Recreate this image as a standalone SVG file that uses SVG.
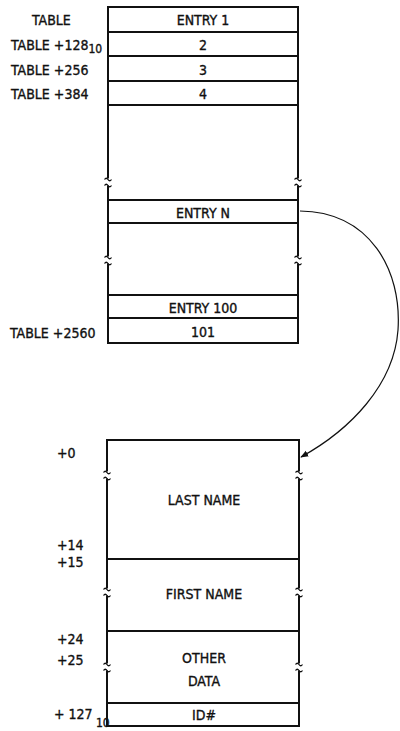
<svg xmlns="http://www.w3.org/2000/svg" xmlns:xlink="http://www.w3.org/1999/xlink" width="400" height="731" viewBox="0 0 400 731">
<style>
text{font-family:"DejaVu Sans Condensed","DejaVu Sans","Liberation Sans",sans-serif;font-stretch:condensed;font-size:14px;fill:#111;stroke:#111;stroke-width:0.35}
.c{text-anchor:middle}
.sub{font-size:12px}
.box{fill:#fff;stroke:#111;stroke-width:2}
.ln{stroke:#111;stroke-width:2;fill:none}
.con{fill:none;stroke:#111;stroke-width:1.2}
</style>
<defs>
<g id="brk"><rect x="-4" y="-3.5" width="8" height="7" fill="#fff"/><path d="M-3.5,-2.5 q1.75,-2.5 3.5,0 t3.5,0 M-3.5,3.5 q1.75,-2.5 3.5,0 t3.5,0" fill="none" stroke="#111" stroke-width="1.3"/></g>
<marker id="arr" viewBox="0 0 10 10" refX="9" refY="5" markerWidth="8" markerHeight="8" markerUnits="userSpaceOnUse" orient="auto"><path d="M0,1 L10,5 L0,9 Z" fill="#111"/></marker>
</defs>

<g id="table">
<rect class="box" x="108" y="7" width="190" height="336"/>
<path class="ln" d="M108,32H298M108,56H298M108,81H298M108,105H298M108,200H298M108,223H298M108,295H298M108,318H298"/>
<use xlink:href="#brk" x="108" y="182"/>
<use xlink:href="#brk" x="298" y="182"/>
<use xlink:href="#brk" x="108" y="260"/>
<use xlink:href="#brk" x="298" y="260"/>
</g>
<g id="entry1"><text class="c" x="203" y="25">ENTRY 1</text></g>
<g id="entry2"><text class="c" x="203" y="50">2</text></g>
<g id="entry3"><text class="c" x="203" y="75">3</text></g>
<g id="entry4"><text class="c" x="203" y="99">4</text></g>
<g id="entryN"><text class="c" x="203" y="218">ENTRY N</text></g>
<g id="entry100"><text class="c" x="203" y="313">ENTRY 100</text></g>
<g id="entry101"><text class="c" x="203" y="337">101</text></g>

<g id="table-labels">
<text x="32" y="25">TABLE</text>
<text x="11" y="50">TABLE +128<tspan class="sub" dy="3">10</tspan></text>
<text x="11" y="75">TABLE +256</text>
<text x="11" y="99">TABLE +384</text>
<text x="10" y="338">TABLE +2560</text>
</g>

<g id="record">
<rect class="box" x="107" y="440" width="192" height="286"/>
<path class="ln" d="M107,559H299M107,631H299M107,703H299"/>
<use xlink:href="#brk" x="107" y="475"/>
<use xlink:href="#brk" x="299" y="475"/>
<use xlink:href="#brk" x="107" y="592"/>
<use xlink:href="#brk" x="299" y="592"/>
<use xlink:href="#brk" x="107" y="667"/>
<use xlink:href="#brk" x="299" y="667"/>
</g>
<g id="lastname"><text class="c" x="204" y="505">LAST NAME</text></g>
<g id="firstname"><text class="c" x="204" y="599">FIRST NAME</text></g>
<g id="otherdata"><text class="c" x="204" y="663">OTHER</text><text class="c" x="204" y="686">DATA</text></g>
<g id="id"><text class="c" x="204" y="720">ID#</text></g>

<g id="record-labels">
<text x="57" y="458">+0</text>
<text x="57" y="550">+14</text>
<text x="57" y="567">+15</text>
<text x="57" y="644">+24</text>
<text x="57" y="665">+25</text>
<text x="54" y="719">+ 127</text>
<text class="sub" x="96" y="727">10</text>
</g>

<g id="connectors">
<path class="con" d="M300,211 C370,212 402,270 398,330 C394,385 350,430 301,457" marker-end="url(#arr)"/>
</g>
</svg>
